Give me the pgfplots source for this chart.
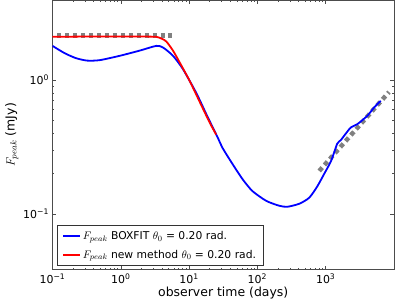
\documentclass[border=0pt]{standalone}
\usepackage{pgfplots}
\pgfplotsset{compat=1.18}
\usepackage{fontspec}
\setmainfont{DejaVu Sans}
\begin{document}
\begin{tikzpicture}
\begin{axis}[
  scale only axis,
  width=341.5bp, height=269bp,
  xmode=log, ymode=log,
  xmin=0.1, xmax=10000,
  ymin=0.0385, ymax=3.9,
  tick align=inside,
  major tick length=4bp, minor tick length=2bp,
  axis line style={black!70, line width=0.8pt},
  every tick/.style={black!70, line width=0.5pt},
  xtick={0.1,1,10,100,1000},
  xticklabels={10\textsuperscript{−1},10\textsuperscript{0},10\textsuperscript{1},10\textsuperscript{2},10\textsuperscript{3}},
  ytick={0.1,1},
  yticklabels={10\textsuperscript{−1},10\textsuperscript{0}},
  ticklabel style={font=\fontsize{11}{12}\selectfont},
  xticklabel style={yshift=-1pt},
  xlabel={observer time (days)},
  ylabel={$F_{peak}$ (mJy)},
  label style={font=\fontsize{12.5}{14}\selectfont},
  xlabel style={yshift=4pt},
  ylabel style={yshift=-2pt},
  legend cell align=left,
  legend style={at={(0.013,0.015)}, anchor=south west, font=\fontsize{10.8}{13}\selectfont,
    draw=black!80, line width=0.8pt, row sep=5pt, inner xsep=5pt, inner ysep=3.5pt},
  legend image code/.code={\draw[#1, line width=1.5pt] (0cm,0cm) -- (0.6cm,0cm);},
]
\addplot[gray, line width=4.5pt, dash pattern=on 4.5pt off 3.5pt, forget plot] coordinates {(0.116,2.13) (5.7,2.13)};
\addplot[gray, line width=4.5pt, dash pattern=on 4.5pt off 3.5pt, forget plot] coordinates {(804,0.209) (8450,0.81)};
\addplot[blue, line width=1.8pt, smooth, tension=0.4] coordinates {
(0.1,1.79) (0.15,1.58) (0.22,1.45) (0.32,1.39) (0.49,1.40) (0.97,1.51) (1.89,1.65) (3.32,1.79) (4.15,1.74) (5.81,1.51) (8.13,1.20) (12.7,0.80) (18,0.55) (26.3,0.37)
(30.8,0.311) (43.1,0.236) (60.4,0.182) (84.5,0.148) (135,0.125) (209,0.115) (274,0.113) (410,0.119) (574,0.132) (751,0.160) (951,0.199) (1203,0.249) (1472,0.333) (1666,0.355) (1992,0.40) (2333,0.441) (2913,0.467) (4074,0.539) (5105,0.621) (6394,0.697)};
\addlegendentry{$F_{peak}$ BOXFIT $\theta_0$ = 0.20 rad.}
\addplot[red, line width=1.8pt, smooth, tension=0.4] coordinates {
(0.1,2.09) (0.3,2.1) (1,2.1) (2,2.1) (3.32,2.09) (4.0,2.02) (4.64,1.93) (5.81,1.65) (7.26,1.35) (10.2,0.98) (15,0.65) (20,0.48) (24.9,0.39)};
\addlegendentry{$F_{peak}$ new method $\theta_0$ = 0.20 rad.}
\end{axis}
\pgfresetboundingbox
\path ([shift={(-52.5bp,-38bp)}]current axis.south west) rectangle ([shift={(1bp,0.5bp)}]current axis.north east);
\end{tikzpicture}
\end{document}
